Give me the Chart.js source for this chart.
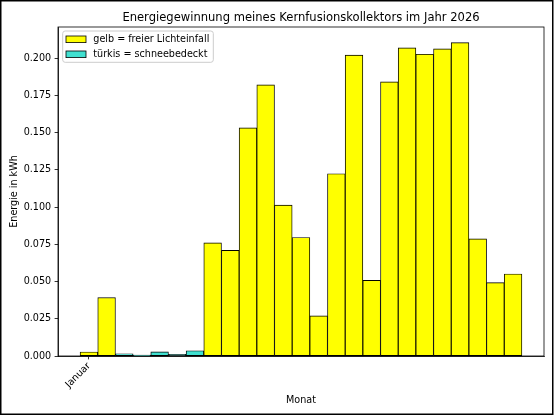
<!DOCTYPE html>
<html><head><meta charset="utf-8">
<script src="https://cdn.jsdelivr.net/npm/chart.js@4/dist/chart.umd.min.js"></script>
<style>html,body{margin:0;padding:0;background:#fff;} #wrap{width:554px;height:416px;position:relative;}</style>
</head><body><div id="wrap"><canvas id="c" width="554" height="416"></canvas></div>
<script>
// Kategorien (Balken, chronologisch)
const wochen = ['W01','W02','W03','W04','W05','W06','W07','W08','W09','W10','W11','W12','W13','W14','W15','W16','W17','W18','W19','W20','W21','W22','W23','W24','W25'];
// Energie in kWh
const energie = [0.0027, 0.0392, 0.0015, 0.0006, 0.0028, 0.0011, 0.0035, 0.0759, 0.0709, 0.1531, 0.1820, 0.1013, 0.0795, 0.0269, 0.1223, 0.2019, 0.0508, 0.1840, 0.2068, 0.2025, 0.2061, 0.2103, 0.0786, 0.0492, 0.0550];
// Zustand je Balken: 'gelb' = freier Lichteinfall, 'tuerkis' = schneebedeckt
const zustand = ['gelb','gelb','tuerkis','tuerkis','tuerkis','tuerkis','tuerkis','gelb','gelb','gelb','gelb','gelb','gelb','gelb','gelb','gelb','gelb','gelb','gelb','gelb','gelb','gelb','gelb','gelb','gelb'];
const tickPositions = [0];
const tickLabels = ['Januar'];
const legendKeys = ['gelb', 'tuerkis'];
const legendLabels = ['gelb = freier Lichteinfall', 'türkis = schneebedeckt'];
const legendColors = ['#ffff00', '#40e0d0'];
const titel = 'Energiegewinnung meines Kernfusionskollektors im Jahr 2026';

const FONT = 'DejaVu Sans';
const FS = 9.62;

const datasets = legendKeys.map((k, j) => ({
  label: legendLabels[j],
  data: energie.map((v, i) => ({x: i, y: v, z: zustand[i]})).filter(p => p.z === k),
  backgroundColor: legendColors[j],
  borderColor: '#000',
  borderWidth: 0.9,
  borderSkipped: false,
  grouped: false,
  barPercentage: 1,
  categoryPercentage: 1
}));

const n = wochen.length;
const xMin = -0.5 - 0.05 * n, xMax = n - 0.5 + 0.05 * n;
const yMax = Math.max(...energie) * 1.05;

const deco = {
  id: 'deco',
  afterDraw(chart) {
    const ctx = chart.ctx, a = chart.chartArea;
    ctx.save();
    // spines
    ctx.strokeStyle = '#000'; ctx.lineWidth = 0.8;
    ctx.strokeRect(a.left, a.top, a.right - a.left, a.bottom - a.top);
    // title
    ctx.fillStyle = '#000';
    ctx.font = '11.55px "' + FONT + '"';
    ctx.textAlign = 'center'; ctx.textBaseline = 'alphabetic';
    ctx.fillText(titel, (a.left + a.right) / 2, a.top - 6);
    // legend
    const bx = a.left + 4.7, by = a.top + 4, bw = 150.6, bh = 31.3;
    ctx.beginPath();
    ctx.roundRect(bx, by, bw, bh, 2.5);
    ctx.fillStyle = 'rgba(255,255,255,0.8)'; ctx.fill();
    ctx.strokeStyle = '#cccccc'; ctx.lineWidth = 1; ctx.stroke();
    ctx.font = FS + 'px "' + FONT + '"';
    ctx.textAlign = 'left'; ctx.textBaseline = 'middle';
    legendLabels.forEach((lab, j) => {
      const cy = by + 8.3 + j * 15;
      ctx.fillStyle = legendColors[j];
      ctx.fillRect(bx + 3.3, cy - 3.3, 20, 6.6);
      ctx.strokeStyle = '#000'; ctx.lineWidth = 0.8;
      ctx.strokeRect(bx + 3.3, cy - 3.3, 20, 6.6);
      ctx.fillStyle = '#000';
      ctx.fillText(lab, bx + 30.6, cy);
    });
    // figure frame
    ctx.strokeStyle = '#000'; ctx.lineWidth = 1.5;
    ctx.strokeRect(0.75, 0.75, 552, 413.5);
    ctx.restore();
  }
};

new Chart(document.getElementById('c'), {
  type: 'bar',
  data: { labels: wochen, datasets },
  options: {
    responsive: false,
    animation: false,
    layout: { padding: { top: 27, right: 10, left: 0, bottom: 0 } },
    plugins: { legend: { display: false }, tooltip: { enabled: false }, title: { display: false } },
    scales: {
      x: {
        type: 'linear', min: xMin, max: xMax, offset: false, bounds: 'data',
        afterFit(s) { s.height = 60; },
        afterBuildTicks(s) { s.ticks = tickPositions.map(v => ({value: v})); },
        ticks: {
          callback: (v) => { const k = tickPositions.indexOf(v); return k >= 0 ? tickLabels[k] : ''; },
          minRotation: 45, maxRotation: 45, autoSkip: false,
          color: '#000', font: { family: FONT, size: FS }, padding: 1
        },
        grid: { drawOnChartArea: false, drawTicks: true, tickLength: 3.4, color: '#000', lineWidth: 0.8, offset: false },
        border: { display: true, color: '#000', width: 0.8 },
        title: { display: true, text: 'Monat', color: '#000', font: { family: FONT, size: FS }, padding: { top: 0, bottom: 10.2 } }
      },
      y: {
        min: 0, max: yMax,
        afterFit(s) { s.width = 58; },
        afterBuildTicks(s) { s.ticks = s.ticks.filter(t => Math.abs(t.value / 0.025 - Math.round(t.value / 0.025)) < 1e-6); },
        ticks: {
          stepSize: 0.025, includeBounds: false,
          callback: (v) => v.toFixed(3),
          color: '#000', font: { family: FONT, size: FS }, padding: 3.4
        },
        grid: { drawOnChartArea: false, drawTicks: true, tickLength: 3.4, color: '#000', lineWidth: 0.8 },
        border: { display: true, color: '#000', width: 0.8 },
        title: { display: true, text: 'Energie in kWh', color: '#000', font: { family: FONT, size: FS }, padding: { top: 8.5, bottom: 0 } }
      }
    }
  },
  plugins: [deco]
});
</script>
</body></html>
